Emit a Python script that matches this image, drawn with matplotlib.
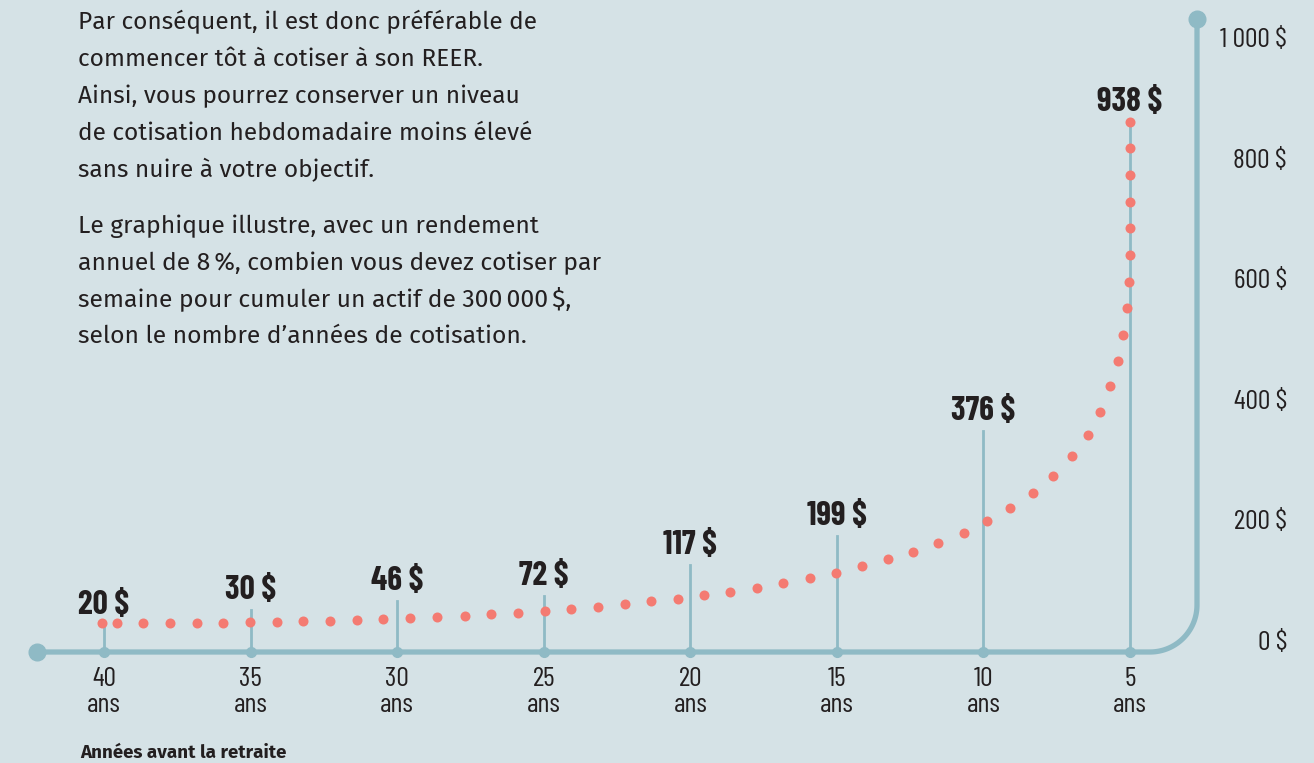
import numpy as np
import matplotlib.pyplot as plt
from matplotlib import transforms

# couleurs
FOND = '#d5e2e6'
AXE = '#8fbac5'
POINT = '#f47b72'
NOIR = '#231f20'

# années avant la retraite / cotisation hebdomadaire ($)
annees = [40, 35, 30, 25, 20, 15, 10, 5]
cotisations = [20, 30, 46, 72, 117, 199, 376, 938]
hauteurs_tiges = [45, 70, 85, 93, 144, 192, 367, 879]

# courbe pointillée
courbe_x = [40.07, 39.56, 38.67, 37.75, 36.83, 35.94, 35.02, 34.10, 33.21, 32.29,
            31.37, 30.48, 29.56, 28.64, 27.69, 26.80, 25.88, 24.96, 24.07, 23.15,
            22.23, 21.34, 20.42, 19.53, 18.64, 17.72, 16.83, 15.91, 15.03, 14.14,
            13.26, 12.40, 11.55, 10.66, 9.88, 9.09, 8.31, 7.63, 6.98, 6.43,
            6.02, 5.68, 5.41, 5.24, 5.11, 5.03, 5.0, 5.0, 5.0, 5.0, 5.0, 5.0]
courbe_y = [47.6, 47.6, 47.6, 47.6, 48.6, 48.6, 49.3, 49.8, 50.9, 51.9,
            53.1, 54.7, 55.9, 57.5, 59.7, 62.5, 65.2, 68.5, 71.8, 75.1,
            79.1, 84.1, 88.4, 94.0, 99.5, 106.1, 114.4, 122.7, 131.0, 142.6,
            154.2, 165.8, 180.8, 197.3, 217.2, 238.8, 263.7, 291.9, 325.0, 359.9,
            398.0, 441.1, 482.6, 525.7, 570.5, 613.6, 658.4, 703.2, 746.3, 791.0,
            835.8, 878.9]

y_ticks = [0, 200, 400, 600, 800, 1000]
y_labels = ['0 $', '200 $', '400 $', '600 $', '800 $', '1 000 $']

texte_1 = ["Par conséquent, il est donc préférable de",
           "commencer tôt à cotiser à son REER.",
           "Ainsi, vous pourrez conserver un niveau",
           "de cotisation hebdomadaire moins élevé",
           "sans nuire à votre objectif."]
texte_2 = ["Le graphique illustre, avec un rendement",
           "annuel de 8\u202f%, combien vous devez cotiser par",
           "semaine pour cumuler un actif de 300\u202f000\u202f$,",
           "selon le nombre d’années de cotisation."]

# mise en page en pixels
W, H = 1314, 763
PX_AN = 29.314      # pixels par année
PX_DOL = 0.603      # pixels par dollar
X40, Y0 = 104, 652  # position de 40 ans et de 0 $


def ax_x(px):
    return 40 - (px - X40) / PX_AN


def ax_y(py):
    return (Y0 - py) / PX_DOL


COND = ['Barlow Condensed', 'DejaVu Sans']
TEXTE = ['Fira Sans', 'Noto Sans', 'DejaVu Sans']

fig = plt.figure(figsize=(W / 100, H / 100), dpi=100, facecolor=FOND)
ax = fig.add_axes([0, 0, 1, 1])
ax.set_facecolor(FOND)
ax.set_xlim(ax_x(0), ax_x(W))
ax.set_ylim(ax_y(H), ax_y(0))
ax.axis('off')

# axe en L avec coin arrondi
x_v = ax_x(1197)
rx, ry = 47 / PX_AN, 47 / PX_DOL
t = np.linspace(0, np.pi / 2, 40)
arc_x = x_v + rx - rx * np.sin(t)
arc_y = ry - ry * np.cos(t)
axe_x = np.concatenate([[ax_x(37)], arc_x, [x_v]])
axe_y = np.concatenate([[0], arc_y, [ax_y(19)]])
ax.plot(axe_x, axe_y, color=AXE, lw=3.8, solid_capstyle='round', zorder=2)
ax.plot([ax_x(37), x_v], [0, ax_y(19)], 'o', color=AXE, ms=12, zorder=3)

# tiges verticales
for a, h in zip(annees, hauteurs_tiges):
    ax.plot([a, a], [0, h], color=AXE, lw=2, zorder=2)
ax.plot(annees, [0] * len(annees), 'o', color=AXE, ms=7, zorder=3)

# courbe pointillée
ax.scatter(courbe_x, courbe_y, s=52, color=POINT, linewidths=0, zorder=4)

# étiquettes de valeur
for a, h, c in zip(annees, hauteurs_tiges, cotisations):
    ax.annotate(f"{c} $", (a, h), xytext=(0, 8), textcoords='offset points',
                ha='center', va='baseline', fontsize=24, fontweight='bold',
                family=COND, color=NOIR)

# étiquettes de l'axe horizontal
for a in annees:
    ax.annotate(str(a), (a, 0), xytext=(0, -24.5), textcoords='offset points',
                ha='center', va='baseline', fontsize=20, family=COND, color=NOIR)
    ax.annotate("ans", (a, 0), xytext=(0, -43), textcoords='offset points',
                ha='center', va='baseline', fontsize=20, family=COND, color=NOIR)

# étiquettes de l'axe vertical
trans = transforms.blended_transform_factory(ax.transAxes, ax.transData)
for v, lab in zip(y_ticks, y_labels):
    ax.text(1287 / W, v + 2 / PX_DOL, lab, transform=trans, ha='right',
            va='baseline', fontsize=20, family=COND, color=NOIR)

# texte d'introduction
for i, ligne in enumerate(texte_1):
    fig.text(78 / W, 1 - (29.5 + 36.8 * i) / H, ligne, ha='left', va='baseline',
             fontsize=17.6, family=TEXTE, color=NOIR)
for i, ligne in enumerate(texte_2):
    fig.text(78 / W, 1 - (233 + 36.8 * i) / H, ligne, ha='left', va='baseline',
             fontsize=17.8, family=TEXTE, color=NOIR)

fig.text(80 / W, 1 - 762 / H, "Années avant la retraite", ha='left',
         va='bottom', fontsize=13.5, fontweight='bold', family=TEXTE,
         color=NOIR)

fig.savefig('out.png', dpi=100, facecolor=FOND)
